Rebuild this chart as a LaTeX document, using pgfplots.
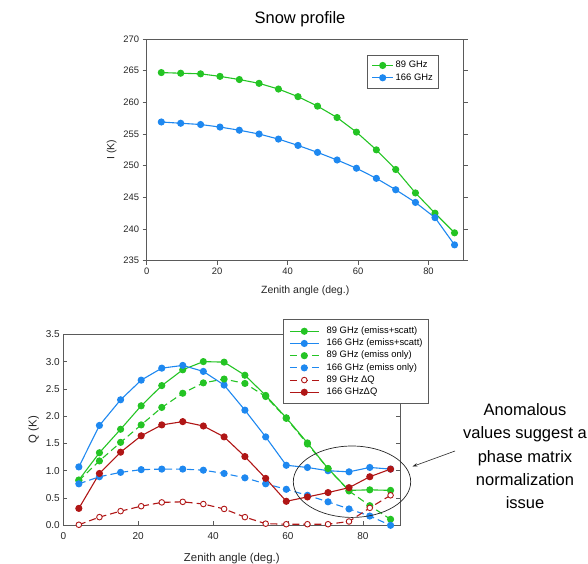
\documentclass[border=0pt]{standalone}
\usepackage{fontspec}
\setmainfont{Liberation Sans}
\usepackage{pgfplots}
\usepackage{pgfplotstable}
\pgfplotsset{compat=1.18}
\usetikzlibrary{arrows.meta}

\definecolor{cgreen}{RGB}{36,196,36}
\definecolor{cblue}{RGB}{30,136,240}
\definecolor{cred}{RGB}{176,22,22}
\definecolor{frame}{RGB}{90,90,90}

% zenith angles (deg.), one column shared by every series
% I: Stokes I, top panel
\pgfplotstableread{
x   a89   a166
4.15  264.7 256.9
9.65  264.6 256.7
15.3  264.5 256.5
20.8  264.1 256.1
26.3  263.6 255.6
31.9  263.0 255.0
37.4  262.1 254.2
42.95 260.9 253.2
48.5  259.4 252.1
54.05 257.6 250.9
59.55 255.3 249.6
65.2  252.5 248.0
70.7  249.4 246.2
76.3  245.7 244.2
81.85 242.5 241.8
87.4  239.4 237.5
}\topdata
% Q: Stokes Q, bottom panel
\pgfplotstableread{
x   gs   bs   gd   bd   ro   rs
4.15  0.83 1.07 0.82 0.76 0.01 0.31
9.65  1.33 1.83 1.18 0.89 0.15 0.95
15.3  1.76 2.30 1.52 0.97 0.26 1.34
20.8  2.19 2.66 1.84 1.02 0.35 1.64
26.3  2.56 2.88 2.16 1.03 0.42 1.84
31.9  2.85 2.93 2.42 1.03 0.43 1.90
37.4  3.00 2.82 2.61 1.01 0.39 1.82
42.95 2.99 2.57 2.68 0.95 0.30 1.62
48.5  2.75 2.11 2.60 0.87 0.15 1.26
54.05 2.38 1.62 2.36 0.76 0.03 0.86
59.55 1.97 1.10 1.96 0.66 0.02 0.44
65.2  1.51 1.06 1.49 0.55 0.02 0.52
70.7  1.04 1.00 1.04 0.43 0.02 0.60
76.3  0.64 0.98 0.63 0.30 0.07 0.69
81.85 0.65 1.06 0.36 0.17 0.32 0.89
87.4  0.64 1.03 0.11 0.00 0.55 1.03
}\botdata

\pgfplotsset{
  panel/.style={
    scale only axis, anchor=north west,
    xmin=0, xmax=90, xtick={0,20,...,80},
    axis line style={frame, line width=0.8pt},
    tick style={frame, line width=0.6pt},
    /pgf/number format/assume math mode=true,
    every tick label/.append style={text=black!85},
    label style={text=black!85},
    legend cell align=left,
  },
  sline/.style={line width=1.1pt, mark=*, mark size=3pt, mark options={solid}},
  dline/.style={sline, dash pattern=on 7pt off 4pt},
}

\begin{document}
\begin{tikzpicture}
\path[use as bounding box] (0pt,0pt) rectangle (588pt,-563pt);

\node[font=\fontsize{16.5}{19}\selectfont] at (300pt,-19.5pt) {Snow profile};

\begin{axis}[panel,
  at={(146.7pt,-39pt)}, width=317pt, height=221.7pt,
  ymin=235, ymax=270, ytick={235,240,...,270},
  tick align=outside, major tick length=4pt,
  xtick pos=bottom, ytick pos=both,
  ticklabel style={font=\fontsize{9.4}{10}\selectfont},
  xlabel={Zenith angle (deg.)}, ylabel={I (K)},
  label style={font=\fontsize{10.5}{12}\selectfont},
  xlabel style={yshift=-4pt},
  legend style={at={(0.6935,0.93)}, anchor=north west, draw=frame,
    line width=0.8pt, font=\fontsize{9.4}{10}\selectfont,
    inner xsep=5pt, inner ysep=5.5pt, row sep=2.2pt,
    nodes={inner sep=0.3pt, text height=7pt, text depth=2.5pt},
    /tikz/every odd column/.append style={column sep=2pt}},
  legend image code/.code={\draw[mark repeat=2,mark phase=2,#1]
    plot coordinates {(0pt,0pt) (10.2pt,0pt) (20.4pt,0pt)};},
]
\addplot[sline, cgreen] table[x=x, y=a89] {\topdata};
\addlegendentry{89 GHz}
\addplot[sline, cblue] table[x=x, y=a166] {\topdata};
\addlegendentry{166 GHz}
\end{axis}

\begin{axis}[panel,
  at={(63.3pt,-334.3pt)}, width=337pt, height=191pt,
  ymin=0, ymax=3.5, ytick={0,0.5,...,3.5},
  yticklabel style={/pgf/number format/.cd, fixed, fixed zerofill, precision=1},
  tick align=inside, major tick length=4pt,
  xtick pos=bottom, ytick pos=both,
  ticklabel style={font=\fontsize{10}{11}\selectfont},
  xticklabel style={yshift=-4pt},
  xlabel={Zenith angle (deg.)}, ylabel={Q (K)},
  label style={font=\fontsize{11.4}{13}\selectfont},
  xlabel style={yshift=-6pt},
  legend style={at={(0.653,1.0785)}, anchor=north west, draw=frame,
    line width=0.8pt, font=\fontsize{9.4}{11}\selectfont,
    inner xsep=5.5pt, inner ysep=6.5pt, row sep=2.1pt, fill=white,
    nodes={inner sep=0.3pt, text height=7pt, text depth=2.5pt},
    /tikz/every odd column/.append style={column sep=7pt}},
  legend image code/.code={\draw[mark repeat=2,mark phase=2,#1]
    plot coordinates {(0pt,0pt) (14.5pt,0pt) (29pt,0pt)};},
]
\addplot[sline, cgreen] table[x=x, y=gs] {\botdata};
\addlegendentry{89 GHz (emiss+scatt)}
\addplot[sline, cblue] table[x=x, y=bs] {\botdata};
\addlegendentry{166 GHz (emiss+scatt)}
\addplot[dline, cgreen] table[x=x, y=gd] {\botdata};
\addlegendentry{89 GHz (emiss only)}
\addplot[dline, cblue] table[x=x, y=bd] {\botdata};
\addlegendentry{166 GHz (emiss only)}
\addplot[dline, cred, mark options={solid, fill=white, draw=cred, line width=0.9pt, mark size=2.8pt}] table[x=x, y=ro] {\botdata};
\addlegendentry{89 GHz ΔQ}
\addplot[sline, cred] table[x=x, y=rs] {\botdata};
\addlegendentry{166 GHzΔQ}
\end{axis}

% annotation
\draw[black!85, line width=0.7pt] (352pt,-481.7pt) ellipse [x radius=58.7pt, y radius=35.7pt];
\draw[black!85, line width=0.6pt, -{Stealth[length=5pt,width=3.5pt]}] (455pt,-451pt) -- (412.5pt,-466.5pt);
\node[align=center, anchor=north, font=\fontsize{16.5}{23.3}\selectfont]
  at (525pt,-400pt) {Anomalous\\values suggest a\\phase matrix\\normalization\\issue};
\end{tikzpicture}
\end{document}
